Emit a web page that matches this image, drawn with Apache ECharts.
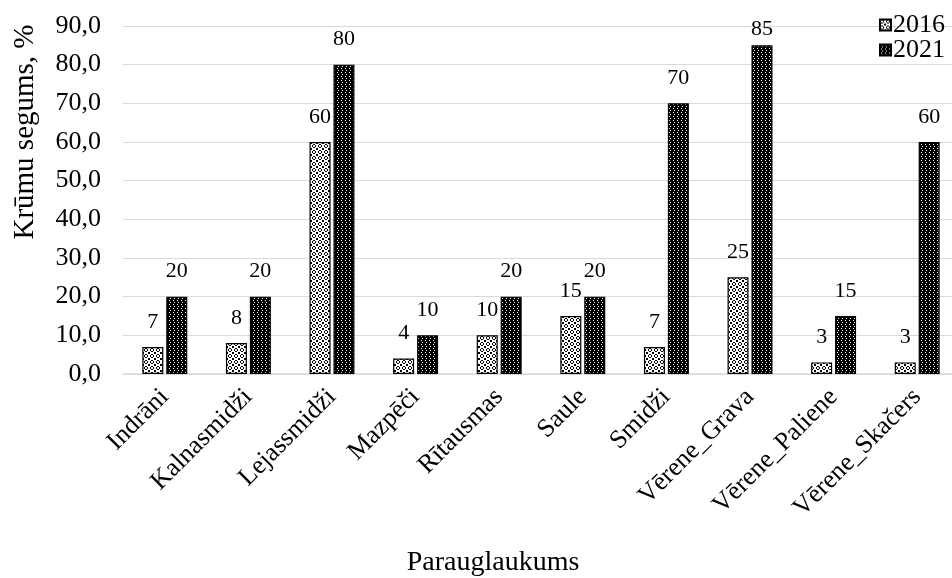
<!DOCTYPE html>
<html>
<head>
<meta charset="utf-8">
<script src="https://cdn.jsdelivr.net/npm/echarts@6/dist/echarts.min.js"></script>
<style>html,body{margin:0;padding:0;background:#fff;overflow:hidden;width:952px;height:578px}#c{width:959px;height:578px}</style>
</head>
<body>
<div id="c"></div>
<script>
const categories = ['Indrāni','Kalnasmidži','Lejassmidži','Mazpēči','Rītausmas','Saule','Smidži','Vērene_Grava','Vērene_Paliene','Vērene_Skačers'];
const values2016 = [7, 8, 60, 4, 10, 15, 7, 25, 3, 3];
const values2021 = [20, 20, 80, 10, 20, 20, 70, 85, 15, 60];
const seriesNames = ['2016', '2021'];
const yAxisTitle = 'Krūmu segums, %';
const xAxisTitle = 'Parauglaukums';

function makePattern(kind) {
  const c = document.createElement('canvas');
  const ctx = c.getContext('2d');
  if (kind === 'light') {
    c.width = 6; c.height = 6;
    ctx.fillStyle = '#fff'; ctx.fillRect(0,0,6,6);
    ctx.fillStyle = '#000';
    const px = [[1,0],[2,0],[0,1],[3,1],[0,2],[3,2],[1,3],[2,3],[4,4],[5,5],[4,5],[5,4]];
    px.forEach(p => ctx.fillRect(p[0], p[1], 1, 1));
  } else {
    c.width = 4; c.height = 4;
    ctx.fillStyle = '#000'; ctx.fillRect(0,0,4,4);
    ctx.fillStyle = '#fff';
    ctx.fillRect(1,0,1,1); ctx.fillRect(2,2,1,1);
  }
  return { image: c, repeat: 'repeat' };
}

const font = 'Liberation Serif';
const chart = echarts.init(document.getElementById('c'), null, {renderer: 'canvas'});
const lbl = {
  show: true, position: 'top', distance: 14,
  fontFamily: font, fontSize: 22, color: '#000'
};
// labels near the plot top are pushed closer to their bar (as in the reference)
const withLabelFit = arr => arr.map(v => v > 82 ? { value: v, label: { distance: 5 } } : v);

chart.setOption({
  animation: false,
  textStyle: { fontFamily: font },
  grid: { left: 123, top: 26, bottom: 204, right: 0, containLabel: false },
  legend: {
    orient: 'vertical', right: 9, top: 7, itemGap: -1,
    itemWidth: 11, itemHeight: 11, icon: 'rect',
    textStyle: { fontFamily: font, fontSize: 26, color: '#000', padding: [0,0,0,-3] },
    data: seriesNames
  },
  xAxis: {
    type: 'category', data: categories,
    axisLine: { lineStyle: { color: '#d9d9d9', width: 1.5 } },
    axisTick: { show: false },
    axisLabel: { rotate: 45, margin: 19, fontFamily: font, fontSize: 26, color: '#000', interval: 0 }
  },
  yAxis: {
    type: 'value', min: 0, max: 90, interval: 10,
    axisLine: { show: false }, axisTick: { show: false },
    splitLine: { lineStyle: { color: '#d9d9d9', width: 1.2 } },
    axisLabel: { margin: 22, fontFamily: font, fontSize: 26, color: '#000',
      formatter: v => v.toFixed(1).replace('.', ',') }
  },
  graphic: [
    { type: 'text', x: 25, y: 132, rotation: Math.PI / 2,
      style: { text: yAxisTitle, font: '29px "Liberation Serif"', fill: '#000', align: 'center', verticalAlign: 'middle' } },
    { type: 'text', x: 493, y: 563,
      style: { text: xAxisTitle, font: '28px "Liberation Serif"', fill: '#000', align: 'center', verticalAlign: 'middle' } }
  ],
  series: [
    { name: seriesNames[0], type: 'bar', data: withLabelFit(values2016), barWidth: 21, barGap: '14%',
      itemStyle: { color: makePattern('light'), borderColor: '#000', borderWidth: 1.2 },
      label: lbl },
    { name: seriesNames[1], type: 'bar', data: withLabelFit(values2021), barWidth: 21,
      itemStyle: { color: makePattern('dark'), borderColor: '#000', borderWidth: 1.2 },
      label: lbl }
  ]
});
</script>
</body>
</html>
